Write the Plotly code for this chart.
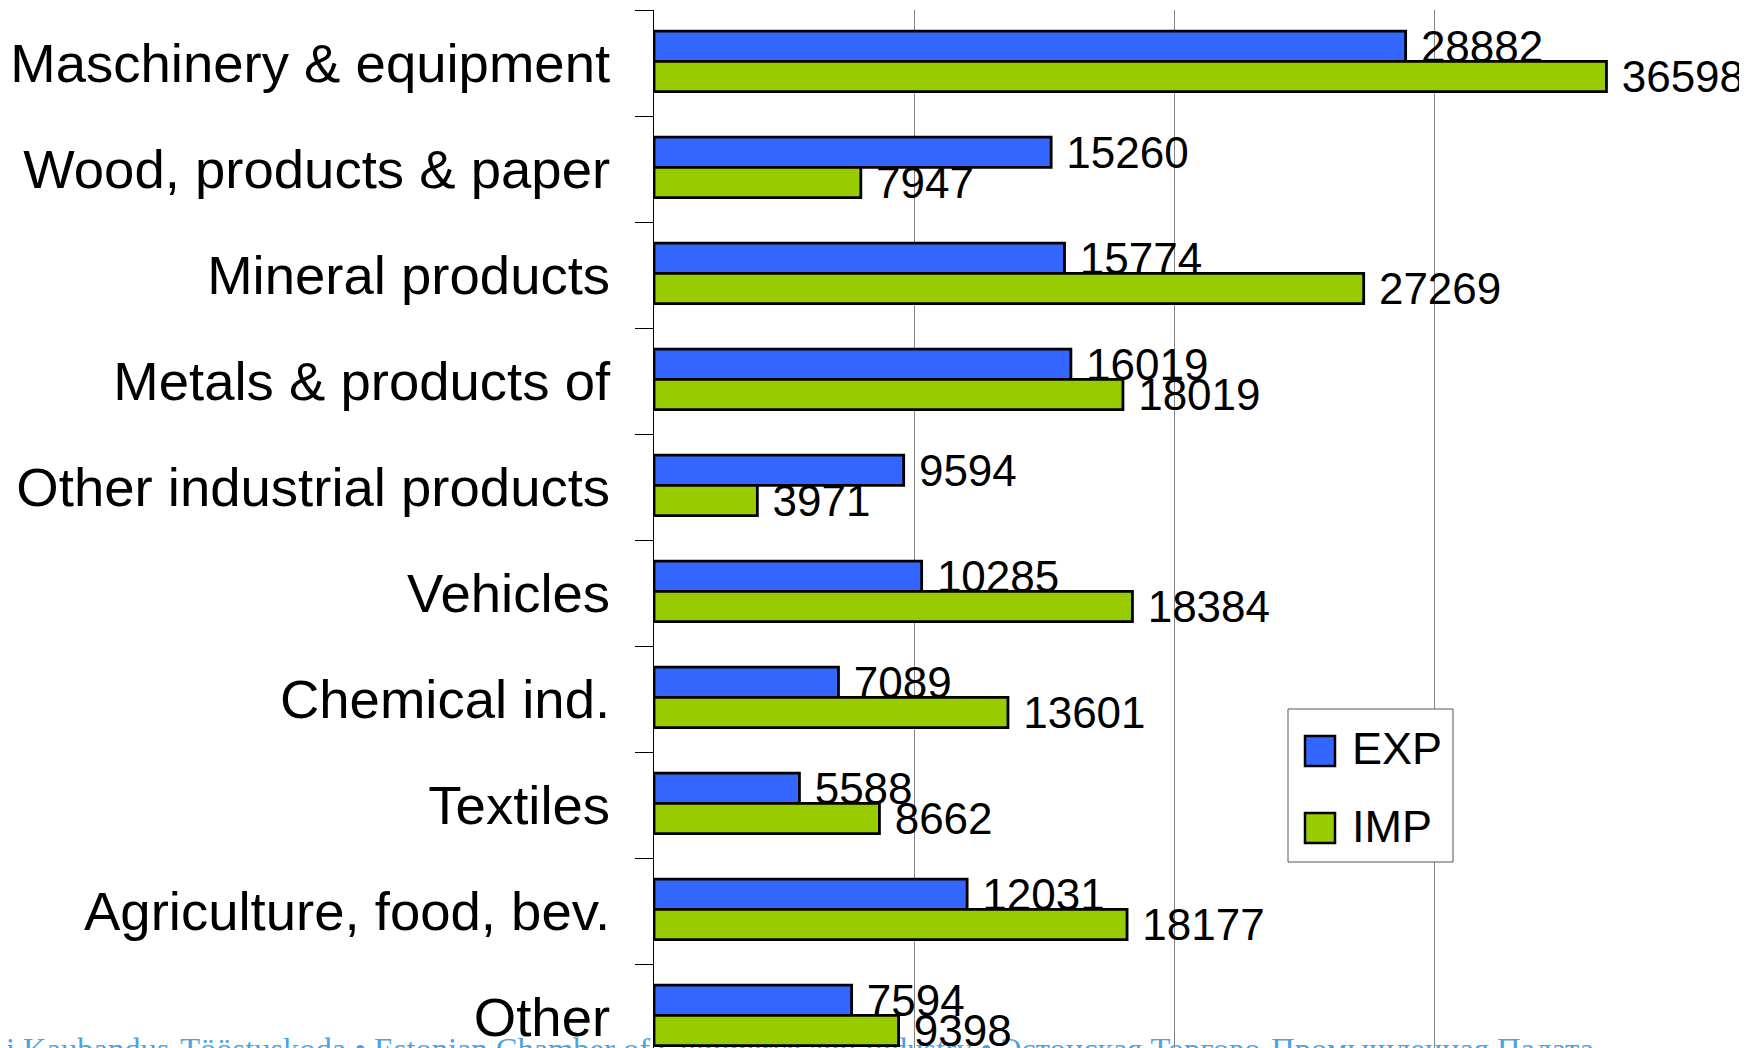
import plotly.graph_objects as go

categories = [
    "Maschinery & equipment",
    "Wood, products & paper",
    "Mineral products",
    "Metals & products of",
    "Other industrial products",
    "Vehicles",
    "Chemical ind.",
    "Textiles",
    "Agriculture, food, bev.",
    "Other",
]
exp_values = [28882, 15260, 15774, 16019, 9594, 10285, 7089, 5588, 12031, 7594]
imp_values = [36598, 7947, 27269, 18019, 3971, 18384, 13601, 8662, 18177, 9398]
series_names = ["EXP", "IMP"]
watermark = ("Eesti Kaubandus-Tööstuskoda \u2022 Estonian Chamber of Commerce and Industry "
             "\u2022 \u042d\u0441\u0442\u043e\u043d\u0441\u043a\u0430\u044f \u0422\u043e\u0440\u0433\u043e\u0432\u043e-"
             "\u041f\u0440\u043e\u043c\u044b\u0448\u043b\u0435\u043d\u043d\u0430\u044f \u041f\u0430\u043b\u0430\u0442\u0430")

# the page body has an 8px margin: figure pixel = screen pixel - 8
OFF = 8
W, H = 1747 - OFF, 1048 - OFF
L, R, T, B = 654 - OFF, 1695 - OFF, 10 - OFF, 1048 - OFF
BLUE = "#3366FF"
GREEN = "#99CC00"
FONT = "Liberation Sans, Arial, sans-serif"
BAR_W = 0.285
OFFSETS = [-0.30, -0.015]


def X(sx):
    return (sx - OFF - L) / (R - L)


def Y(sy):
    return (B - (sy - OFF)) / (B - T)


fig = go.Figure()
for name, vals, col, off in [(series_names[0], exp_values, BLUE, OFFSETS[0]),
                             (series_names[1], imp_values, GREEN, OFFSETS[1])]:
    fig.add_trace(go.Bar(
        name=name,
        y=categories,
        x=vals,
        orientation="h",
        width=BAR_W,
        offset=off,
        marker=dict(color=col, line=dict(color="black", width=2.8)),
        text=["\u00a0" + str(v) for v in vals],
        texttemplate="%{text}",
        textposition="outside",
        constraintext="none",
        cliponaxis=False,
        textfont=dict(family=FONT, size=44, color="black"),
        showlegend=False,
        hoverinfo="skip",
    ))

# category spacing ~106 px; plot extends below the visible canvas
span = 106.0
bottom_val = -0.5 + (B - T) / span

fig.update_layout(
    width=W, height=H,
    margin=dict(l=L, r=W - R, t=T, b=H - B, pad=0, autoexpand=False),
    paper_bgcolor="white",
    plot_bgcolor="rgba(0,0,0,0)",
    barmode="group",
    font=dict(family=FONT, color="black"),
    xaxis=dict(
        range=[0, 40000], dtick=10000, showgrid=True, gridcolor="#858585", gridwidth=1,
        showticklabels=False, zeroline=False, showline=False, ticks="",
        fixedrange=True, automargin=False,
    ),
    yaxis=dict(
        type="category", categoryorder="array", categoryarray=categories,
        range=[bottom_val, -0.5],
        showline=True, linecolor="black", linewidth=1,
        ticks="outside", ticklen=18, tickcolor="black", tickwidth=1,
        tickson="boundaries", showgrid=False,
        tickfont=dict(family=FONT, size=54.5, color="black"),
        ticklabelstandoff=32,
        fixedrange=True, automargin=False,
    ),
)

# watermark (behind bars), screen coords
fig.add_shape(
    type="line", xref="paper", yref="paper",
    x0=X(-50), x1=X(1740), y0=Y(1045), y1=Y(1045),
    line=dict(width=0, color="rgba(0,0,0,0)"), layer="below",
    label=dict(text=watermark, textposition="start", xanchor="left", yanchor="middle",
               padding=0, font=dict(family="Liberation Serif, Times New Roman, serif", size=32.5, color="#4ba3dc")),
)

# legend box (screen coords)
fig.add_shape(type="rect", xref="paper", yref="paper",
              x0=X(1288), x1=X(1453), y0=Y(862), y1=Y(709),
              line=dict(color="#555555", width=1), fillcolor="white", layer="above")
for name, col, cy in [(series_names[0], BLUE, 751), (series_names[1], GREEN, 828)]:
    fig.add_shape(type="rect", xref="paper", yref="paper",
                  x0=X(1305), x1=X(1335), y0=Y(cy + 15), y1=Y(cy - 15),
                  line=dict(color="black", width=2.5), fillcolor=col, layer="above")
    fig.add_annotation(xref="paper", yref="paper", x=X(1350), y=Y(cy - 2),
                       text=name, showarrow=False, xanchor="left", yanchor="middle",
                       font=dict(family=FONT, size=45, color="black"))

fig.write_html("out.html")
